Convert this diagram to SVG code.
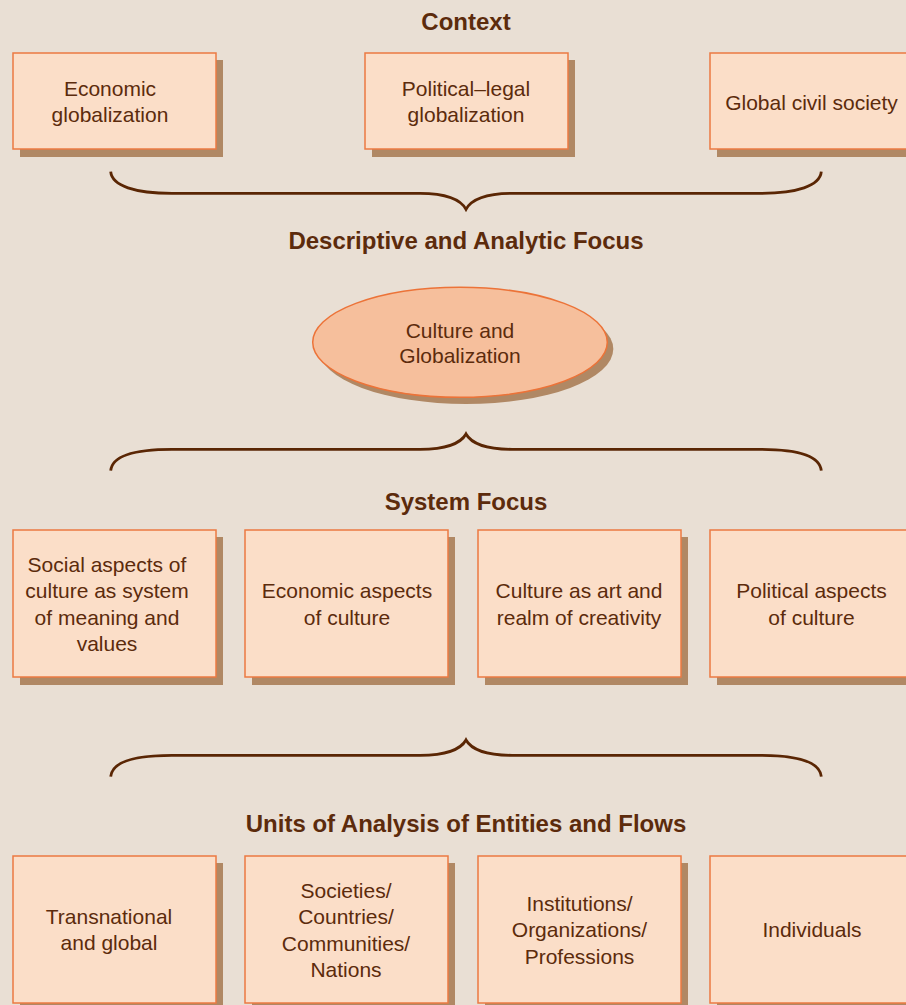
<svg xmlns="http://www.w3.org/2000/svg" width="906" height="1005" viewBox="0 0 906 1005">
  <style>
    .bg { fill: #E9DFD4; }
    .shadow { fill: #B08864; }
    .box { fill: #FBDEC8; stroke: #EC7A42; stroke-width: 1.5; }
    .oval { fill: #F6BF9C; stroke: #EC7338; stroke-width: 1.5; }
    .label { font-family: "Liberation Sans", Arial, sans-serif; font-size: 21px; fill: #5C2B0C; text-anchor: middle; }
    .heading { font-family: "Liberation Sans", Arial, sans-serif; font-size: 24px; font-weight: bold; fill: #5C2B0C; text-anchor: middle; }
    .brace { fill: none; stroke: #5A2604; stroke-width: 2.8; stroke-linejoin: miter; }
  </style>

  <rect class="bg" x="0" y="0" width="906" height="1005"/>

  <!-- Section headings -->
  <g id="headings">
    <text class="heading" x="466" y="30">Context</text>
    <text class="heading" x="466" y="249">Descriptive and Analytic Focus</text>
    <text class="heading" x="466" y="510">System Focus</text>
    <text class="heading" x="466" y="832">Units of Analysis of Entities and Flows</text>
  </g>

  <!-- Context row -->
  <g id="economic-globalization">
    <rect class="shadow" x="20" y="60" width="203" height="97"/>
    <rect class="box" x="13" y="53" width="203" height="96"/>
    <text class="label" x="110" y="96">Economic</text>
    <text class="label" x="110" y="122">globalization</text>
  </g>
  <g id="political-legal-globalization">
    <rect class="shadow" x="372" y="60" width="203" height="97"/>
    <rect class="box" x="365" y="53" width="203" height="96"/>
    <text class="label" x="466" y="96">Political–legal</text>
    <text class="label" x="466" y="122">globalization</text>
  </g>
  <g id="global-civil-society">
    <rect class="shadow" x="717" y="60" width="203" height="97"/>
    <rect class="box" x="710" y="53" width="203" height="96"/>
    <text class="label" x="811.5" y="110">Global civil society</text>
  </g>

  <!-- Central focus -->
  <g id="culture-and-globalization">
    <ellipse class="shadow" cx="466" cy="349" rx="147.3" ry="55"/>
    <ellipse class="oval" cx="460" cy="342.3" rx="147.3" ry="55"/>
    <text class="label" x="460" y="338">Culture and</text>
    <text class="label" x="460" y="363">Globalization</text>
  </g>

  <!-- System focus row -->
  <g id="social-aspects">
    <rect class="shadow" x="20" y="537" width="203" height="148"/>
    <rect class="box" x="13" y="530" width="203" height="147"/>
    <text class="label" x="107" y="571.5">Social aspects of</text>
    <text class="label" x="107" y="598">culture as system</text>
    <text class="label" x="107" y="624.5">of meaning and</text>
    <text class="label" x="107" y="651">values</text>
  </g>
  <g id="economic-aspects">
    <rect class="shadow" x="252" y="537" width="203" height="148"/>
    <rect class="box" x="245" y="530" width="203" height="147"/>
    <text class="label" x="347" y="598">Economic aspects</text>
    <text class="label" x="347" y="624.5">of culture</text>
  </g>
  <g id="culture-as-art">
    <rect class="shadow" x="485" y="537" width="203" height="148"/>
    <rect class="box" x="478" y="530" width="203" height="147"/>
    <text class="label" x="579" y="598">Culture as art and</text>
    <text class="label" x="579" y="624.5">realm of creativity</text>
  </g>
  <g id="political-aspects">
    <rect class="shadow" x="717" y="537" width="203" height="148"/>
    <rect class="box" x="710" y="530" width="203" height="147"/>
    <text class="label" x="811.5" y="598">Political aspects</text>
    <text class="label" x="811.5" y="624.5">of culture</text>
  </g>

  <!-- Units of analysis row -->
  <g id="transnational">
    <rect class="shadow" x="20" y="863" width="203" height="148"/>
    <rect class="box" x="13" y="856" width="203" height="147"/>
    <text class="label" x="109" y="923.5">Transnational</text>
    <text class="label" x="109" y="950">and global</text>
  </g>
  <g id="societies">
    <rect class="shadow" x="252" y="863" width="203" height="148"/>
    <rect class="box" x="245" y="856" width="203" height="147"/>
    <text class="label" x="346" y="897.5">Societies/</text>
    <text class="label" x="346" y="924">Countries/</text>
    <text class="label" x="346" y="950.5">Communities/</text>
    <text class="label" x="346" y="977">Nations</text>
  </g>
  <g id="institutions">
    <rect class="shadow" x="485" y="863" width="203" height="148"/>
    <rect class="box" x="478" y="856" width="203" height="147"/>
    <text class="label" x="579.5" y="911">Institutions/</text>
    <text class="label" x="579.5" y="937.3">Organizations/</text>
    <text class="label" x="579.5" y="963.6">Professions</text>
  </g>
  <g id="individuals">
    <rect class="shadow" x="717" y="863" width="203" height="148"/>
    <rect class="box" x="710" y="856" width="203" height="147"/>
    <text class="label" x="812" y="937">Individuals</text>
  </g>

  <!-- Grouping braces -->
  <g id="connectors">
    <path class="brace" d="M110.7,171.7 C112,186 135,193.3 172,193.3 L420,193.3 C446,193.3 461,200 466,209.3 C471,200 486,193.3 512,193.3 L760,193.3 C797,193.3 820,186 821.3,171.7"/>
    <path class="brace" d="M110.7,470.7 C112,456 135,449.3 172,449.3 L420,449.3 C446,449.3 461,443 466,434 C471,443 486,449.3 512,449.3 L760,449.3 C797,449.3 820,456 821.3,470.7"/>
    <path class="brace" d="M110.7,776.7 C112,762 135,755.3 172,755.3 L420,755.3 C446,755.3 461,749 466,740 C471,749 486,755.3 512,755.3 L760,755.3 C797,755.3 820,762 821.3,776.7"/>
  </g>
</svg>
